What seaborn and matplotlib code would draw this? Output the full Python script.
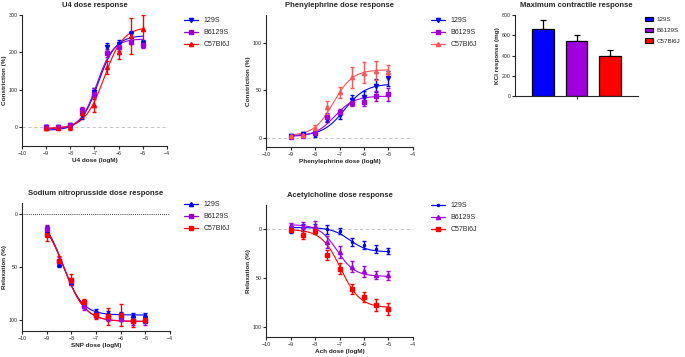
import numpy as np
import pandas as pd
import matplotlib
matplotlib.use("Agg")
import matplotlib.pyplot as plt
from matplotlib.lines import Line2D
from matplotlib.patches import Patch
import seaborn as sns

# strains and colours
strains = ["129S", "B6129S", "C57Bl6J"]
colors = {"129S": "#0000FF", "B6129S": "#A000DD", "C57Bl6J": "#FF0000"}
doses = [-9, -8.5, -8, -7.5, -7, -6.5, -6, -5.5, -5]

# U4 dose response (constriction %)
u4_129s = [0, 0, 5, 33, 93, 215, 222, 248, 225]
u4_129s_err = [5, 4, 5, 10, 12, 10, 10, 10, 8]
u4_b6 = [1, 0, 5, 45, 90, 198, 215, 228, 220]
u4_b6_err = [4, 4, 5, 10, 15, 10, 10, 6, 8]
u4_c57 = [-2, -1, 2, 38, 60, 160, 200, 245, 262]
u4_c57_err = [4, 4, 8, 12, 20, 18, 18, 48, 38]
# fitted curve params: bottom, top, logEC50, hill
u4_fit = {"129S": (-8, 245, -6.85, 1.2), "B6129S": (-4, 236, -6.9, 1.3),
          "C57Bl6J": (-3, 268, -6.6, 1.1)}

# Phenylephrine dose response (constriction %)
pe_129s = [2, 4, 3, 20, 24, 40, 43, 55, 63]
pe_129s_err = [1.5, 2, 2, 4, 4, 5, 6, 7, 8]
pe_b6 = [1, 2, 5, 22, 27, 37, 38, 44, 46]
pe_b6_err = [1, 1.5, 2, 4, 3, 4, 4, 5, 7]
pe_c57 = [2, 3, 10, 32, 48, 64, 69, 71, 70]
pe_c57_err = [1, 1.5, 3, 7, 6, 11, 11, 10, 7]
pe_fit = {"129S": (2, 57, -6.8, 1.0), "B6129S": (1, 44, -7.2, 1.1),
          "C57Bl6J": (2, 72, -7.25, 1.1)}

# KCl maximum response (mg)
kcl_mean = [660, 540, 395]
kcl_err = [90, 65, 55]

# SNP dose response (relaxation %)
snp_129s = [15, 47, 64, 85, 91, 93, 94, 95, 95]
snp_129s_err = [3, 3, 3, 3, 2, 2, 2, 2, 2]
snp_b6 = [14, 44, 63, 87, 95, 98, 99, 101, 101]
snp_b6_err = [3, 3, 3, 3, 3, 3, 2, 3, 3]
snp_c57 = [20, 44, 62, 83, 95, 96, 95, 101, 100]
snp_c57_err = [6, 4, 5, 3, 4, 8, 10, 5, 2]
snp_fit = {"129S": (0, 95, -8.35, 1.1), "B6129S": (0, 101, -8.3, 1.0),
           "C57Bl6J": (0, 101, -8.3, 1.0)}

# Acetylcholine dose response (relaxation %)
ach_129s = [1, -2, -2, 0, 2, 13, 16, 20, 22]
ach_129s_err = [3, 4, 4, 5, 3, 4, 4, 4, 3]
ach_b6 = [-5, -4, -4, 13, 23, 38, 43, 47, 47]
ach_b6_err = [2, 4, 5, 6, 6, 6, 6, 4, 5]
ach_c57 = [1, 6, 2, 26, 40, 61, 69, 77, 81]
ach_c57_err = [2, 4, 3, 5, 6, 5, 5, 6, 6]
ach_fit = {"129S": (-2, 23, -6.6, 1.2), "B6129S": (-5, 48, -7.1, 1.2),
           "C57Bl6J": (0, 80, -6.95, 1.1)}

sns.set_style("ticks")
plt.rcParams["font.family"] = ["Liberation Sans", "DejaVu Sans"]
plt.rcParams["axes.linewidth"] = 0.8
plt.rcParams["xtick.major.width"] = 0.8
plt.rcParams["ytick.major.width"] = 0.8
plt.rcParams["xtick.major.size"] = 2
plt.rcParams["ytick.major.size"] = 2
plt.rcParams["xtick.major.pad"] = 1.5
plt.rcParams["ytick.major.pad"] = 1

W, H = 685, 357
fig = plt.figure(figsize=(W / 100, H / 100), dpi=100)


def add_ax(l, r, t, b):
    return fig.add_axes([l / W, 1 - b / H, (r - l) / W, (b - t) / H])


def curve(params, xs):
    bot, top, ec50, hill = params
    return bot + (top - bot) / (1 + 10 ** ((ec50 - xs) * hill))


def dose_panel(ax, series, fits, markers, title, xlabel, ylabel, color_over=None):
    xs = np.linspace(-9, -5, 200)
    rows = []
    for s in strains:
        yc = curve(fits[s], xs)
        rows.append(pd.DataFrame({"x": xs, "y": yc, "strain": s}))
    cdf = pd.concat(rows)
    pal = dict(colors)
    if color_over:
        pal.update(color_over)
    sns.lineplot(data=cdf, x="x", y="y", hue="strain", palette=pal, ax=ax,
                 linewidth=0.8, legend=False, sort=False)
    for s, (vals, errs) in zip(strains, series):
        ax.errorbar(doses, vals, yerr=errs, fmt=markers[s], color=pal[s],
                    markersize=3, elinewidth=1.0, capsize=1.6, capthick=1.0)
    ax.set_xlim(-10, -4)
    ax.set_xticks(range(-10, -3))
    ax.set_title(title, fontsize=5.5, fontweight="bold", pad=6)
    ax.set_xlabel(xlabel, fontsize=4.6, fontweight="bold", labelpad=1.5)
    ax.set_ylabel(ylabel, fontsize=4.6, fontweight="bold", labelpad=1.5)
    ax.tick_params(labelsize=3.8)
    sns.despine(ax=ax)
    return pal


def add_legend(ax, pal, markers, x, y):
    handles = [Line2D([0], [0], color=pal[s], marker=markers[s], markersize=3,
                      linewidth=0.9) for s in strains]
    fig.legend(handles, strains, loc="upper left",
               bbox_to_anchor=(x / W, 1 - y / H), frameon=False, fontsize=5,
               handlelength=2.0, handletextpad=0.8, labelspacing=0.75,
               borderpad=0, borderaxespad=0)


# panel 1: U4
ax1 = add_ax(22, 167, 15, 146)
m1 = {"129S": "v", "B6129S": "s", "C57Bl6J": "^"}
p1 = dose_panel(ax1, [(u4_129s, u4_129s_err), (u4_b6, u4_b6_err), (u4_c57, u4_c57_err)],
                u4_fit, m1, "U4 dose response", "U4 dose (logM)", "Constriction (%)")
ax1.axhline(0, color="#BBBBBB", linestyle=(0, (4, 3)), linewidth=0.6, zorder=0)
ax1.set_ylim(-50, 300)
ax1.set_yticks([0, 100, 200, 300])
add_legend(ax1, p1, m1, 184, 17)

# panel 2: Phenylephrine
ax2 = add_ax(266, 413, 15, 147)
m2 = {"129S": "v", "B6129S": "s", "C57Bl6J": "^"}
p2 = dose_panel(ax2, [(pe_129s, pe_129s_err), (pe_b6, pe_b6_err), (pe_c57, pe_c57_err)],
                pe_fit, m2, "Phenylephrine dose response", "Phenylephrine dose (logM)",
                "Constriction (%)", color_over={"C57Bl6J": "#FF5555"})
ax2.axhline(0, color="#BBBBBB", linestyle=(0, (4, 3)), linewidth=0.6, zorder=0)
ax2.set_ylim(-10, 130)
ax2.set_yticks([0, 50, 100])
add_legend(ax2, p2, m2, 431, 17)

# panel 3: KCl bars
ax3 = add_ax(515, 638, 15, 96)
kdf = pd.DataFrame({"strain": strains, "kcl": kcl_mean})
sns.barplot(data=kdf, x="strain", y="kcl", hue="strain", palette=colors, ax=ax3,
            width=0.65, edgecolor="black", linewidth=0.9, errorbar=None, legend=False,
            saturation=1)
ax3.errorbar(range(3), kcl_mean, yerr=[[0, 0, 0], kcl_err], fmt="none",
             ecolor="black", elinewidth=0.9, capsize=2.5, capthick=0.9, zorder=0)
ax3.set_xlim(-0.84, 2.84)
ax3.set_ylim(0, 800)
ax3.set_yticks([0, 200, 400, 600, 800])
ax3.set_xticks([1])
ax3.set_xticklabels([""])
ax3.set_xlabel("")
ax3.set_ylabel("KCl response (mg)", fontsize=4.6, fontweight="bold", labelpad=1.5)
ax3.set_title("Maximum contractile response", fontsize=5.5, fontweight="bold", pad=6)
ax3.tick_params(labelsize=3.8)
sns.despine(ax=ax3)
bar_handles = [Patch(facecolor=colors[s], edgecolor="black", linewidth=0.8) for s in strains]
fig.legend(bar_handles, strains, loc="upper left", bbox_to_anchor=(645 / W, 1 - 17 / H),
           frameon=False, fontsize=4.5, handlelength=1.3, handleheight=0.7,
           handletextpad=0.6, labelspacing=0.85, borderpad=0, borderaxespad=0)

# panel 4: SNP
ax4 = add_ax(22, 170, 203, 331)
m4 = {"129S": "^", "B6129S": "s", "C57Bl6J": "s"}
p4 = dose_panel(ax4, [(snp_129s, snp_129s_err), (snp_b6, snp_b6_err), (snp_c57, snp_c57_err)],
                snp_fit, m4, "Sodium nitroprusside dose response", "SNP dose (logM)",
                "Relaxation (%)")
ax4.axhline(0, color="black", linestyle=(0, (1, 1.5)), linewidth=0.6, zorder=0)
ax4.set_ylim(110, -10)
ax4.set_yticks([0, 50, 100])
add_legend(ax4, p4, m4, 184, 201)

# panel 5: Acetylcholine
ax5 = add_ax(266, 413, 205, 337)
m5 = {"129S": ".", "B6129S": "^", "C57Bl6J": "s"}
p5 = dose_panel(ax5, [(ach_129s, ach_129s_err), (ach_b6, ach_b6_err), (ach_c57, ach_c57_err)],
                ach_fit, m5, "Acetylcholine dose response", "Ach dose (logM)",
                "Relaxation (%)")
ax5.axhline(0, color="#BBBBBB", linestyle=(0, (4, 3)), linewidth=0.6, zorder=0)
ax5.set_ylim(110, -25)
ax5.set_yticks([0, 50, 100])
add_legend(ax5, p5, m5, 431, 202)

fig.savefig("out.png", dpi=100)
